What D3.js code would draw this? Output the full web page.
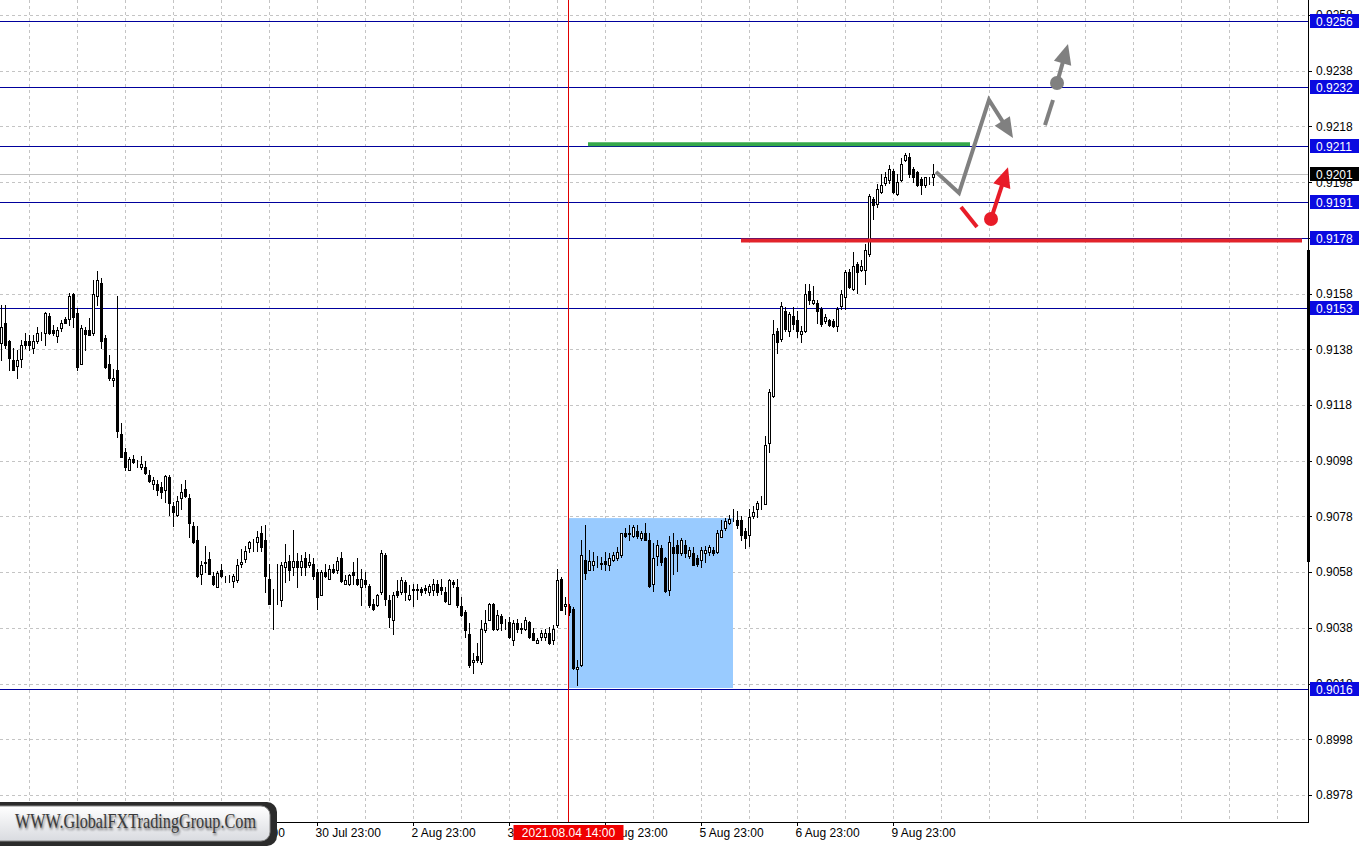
<!DOCTYPE html>
<html><head><meta charset="utf-8">
<script src="https://cdn.jsdelivr.net/npm/d3@7"></script>
<style>html,body{margin:0;padding:0;background:#fff;overflow:hidden}svg{display:block}</style>
</head><body>
<svg id="c" width="1365" height="846"></svg>
<script>
// ---- data: hourly candles (H1), index 0 = first visible bar ----
const open = [0.91401,0.91473,0.91409,0.91343,0.91319,0.91345,0.91409,0.91409,0.91386,0.91409,0.91430,0.91437,0.91499,0.91449,0.91427,0.91457,0.91487,0.91487,0.91578,0.91511,
0.91329,0.91449,0.91449,0.91437,0.91571,0.91619,0.91419,0.91329,0.91269,0.91305,0.91077,0.91011,0.90947,0.90987,0.90975,0.90957,0.90959,0.90927,0.90897,0.90897,
0.90887,0.90875,0.90921,0.90816,0.90785,0.90846,0.90879,0.90846,0.90747,0.90696,0.90575,0.90615,0.90627,0.90567,0.90527,0.90587,0.90555,0.90554,0.90549,0.90551,
0.90609,0.90627,0.90666,0.90678,0.90687,0.90720,0.90697,0.90557,0.90479,0.90487,0.90479,0.90599,0.90621,0.90599,0.90621,0.90599,0.90629,0.90607,0.90611,0.90581,
0.90499,0.90581,0.90557,0.90591,0.90587,0.90629,0.90539,0.90539,0.90581,0.90557,0.90527,0.90551,0.90529,0.90467,0.90461,0.90509,0.90641,0.90479,0.90409,0.90511,
0.90509,0.90545,0.90485,0.90517,0.90518,0.90519,0.90523,0.90509,0.90515,0.90539,0.90527,0.90509,0.90467,0.90545,0.90527,0.90457,0.90437,0.90359,0.90257,0.90279,
0.90257,0.90371,0.90409,0.90465,0.90377,0.90421,0.90389,0.90401,0.90337,0.90397,0.90377,0.90377,0.90401,0.90361,0.90327,0.90347,0.90347,0.90361,0.90337,0.90389,
0.90557,0.90457,0.90457,0.90449,0.90231,0.90247,0.90623,0.90589,0.90607,0.90617,0.90611,0.90619,0.90607,0.90625,0.90629,0.90641,0.90719,0.90719,0.90709,0.90729,
0.90701,0.90719,0.90697,0.90539,0.90637,0.90665,0.90629,0.90517,0.90671,0.90677,0.90649,0.90677,0.90637,0.90649,0.90629,0.90623,0.90649,0.90653,0.90659,0.90653,
0.90707,0.90737,0.90757,0.90775,0.90766,0.90766,0.90727,0.90715,0.90781,0.90805,0.90835,0.90826,0.91045,0.91213,0.91447,0.91417,0.91519,0.91445,0.91498,0.91486,
0.91435,0.91445,0.91589,0.91546,0.91546,0.91525,0.91483,0.91486,0.91483,0.91465,0.91537,0.91567,0.91657,0.91597,0.91687,0.91666,0.91666,0.91723,0.91918,0.91903,
0.91945,0.91978,0.91987,0.92021,0.91936,0.91987,0.92059,0.92069,0.92029,0.92017,0.91990,0.91969,0.91987,0.91997];
const high = [0.91539,0.91539,0.91413,0.91386,0.91377,0.91413,0.91437,0.91431,0.91431,0.91461,0.91443,0.91515,0.91509,0.91467,0.91461,0.91485,0.91497,0.91581,0.91581,0.91527,
0.91467,0.91461,0.91491,0.91629,0.91661,0.91635,0.91431,0.91359,0.91311,0.91571,0.91115,0.91026,0.90993,0.90999,0.90983,0.90996,0.90978,0.90945,0.90921,0.90909,
0.90903,0.90927,0.90927,0.90831,0.90855,0.90897,0.90909,0.90861,0.90759,0.90747,0.90621,0.90675,0.90651,0.90579,0.90585,0.90609,0.90567,0.90570,0.90573,0.90627,
0.90663,0.90675,0.90693,0.90699,0.90726,0.90747,0.90749,0.90611,0.90521,0.90611,0.90617,0.90681,0.90641,0.90731,0.90647,0.90641,0.90653,0.90645,0.90629,0.90593,
0.90587,0.90611,0.90605,0.90611,0.90635,0.90653,0.90569,0.90575,0.90617,0.90629,0.90593,0.90581,0.90539,0.90485,0.90503,0.90659,0.90647,0.90497,0.90509,0.90551,
0.90561,0.90551,0.90533,0.90539,0.90539,0.90527,0.90533,0.90539,0.90557,0.90551,0.90557,0.90527,0.90557,0.90553,0.90557,0.90491,0.90443,0.90397,0.90289,0.90325,
0.90409,0.90443,0.90469,0.90469,0.90443,0.90431,0.90413,0.90419,0.90409,0.90413,0.90397,0.90419,0.90405,0.90381,0.90345,0.90371,0.90377,0.90383,0.90389,0.90593,
0.90563,0.90489,0.90467,0.90455,0.90263,0.90695,0.90749,0.90659,0.90653,0.90637,0.90635,0.90653,0.90647,0.90653,0.90671,0.90721,0.90737,0.90749,0.90749,0.90749,
0.90729,0.90757,0.90719,0.90683,0.90697,0.90677,0.90635,0.90709,0.90721,0.90697,0.90701,0.90697,0.90671,0.90671,0.90641,0.90671,0.90673,0.90677,0.90671,0.90731,
0.90767,0.90773,0.90785,0.90805,0.90799,0.90781,0.90739,0.90805,0.90817,0.90835,0.90853,0.91069,0.91237,0.91486,0.91457,0.91549,0.91531,0.91513,0.91531,0.91517,
0.91465,0.91615,0.91615,0.91609,0.91558,0.91531,0.91505,0.91489,0.91489,0.91531,0.91594,0.91663,0.91669,0.91729,0.91693,0.91699,0.91759,0.91939,0.91927,0.91975,
0.92011,0.92017,0.92041,0.92026,0.92011,0.92065,0.92086,0.92086,0.92035,0.92021,0.91999,0.91999,0.91997,0.92047];
const low = [0.91341,0.91383,0.91307,0.91305,0.91278,0.91317,0.91383,0.91377,0.91367,0.91401,0.91413,0.91395,0.91434,0.91431,0.91407,0.91446,0.91473,0.91467,0.91461,0.91305,
0.91326,0.91379,0.91430,0.91431,0.91539,0.91385,0.91314,0.91269,0.91247,0.91065,0.90993,0.90947,0.90945,0.90972,0.90959,0.90951,0.90933,0.90903,0.90879,0.90857,
0.90846,0.90831,0.90786,0.90747,0.90783,0.90807,0.90849,0.90705,0.90685,0.90561,0.90537,0.90579,0.90573,0.90534,0.90525,0.90563,0.90546,0.90546,0.90527,0.90546,
0.90599,0.90615,0.90654,0.90657,0.90657,0.90657,0.90509,0.90465,0.90377,0.90465,0.90457,0.90545,0.90551,0.90569,0.90527,0.90569,0.90569,0.90599,0.90557,0.90449,
0.90497,0.90563,0.90555,0.90577,0.90577,0.90545,0.90537,0.90533,0.90539,0.90533,0.90461,0.90527,0.90455,0.90445,0.90457,0.90503,0.90461,0.90383,0.90359,0.90491,
0.90503,0.90479,0.90479,0.90457,0.90485,0.90499,0.90505,0.90499,0.90497,0.90497,0.90503,0.90473,0.90465,0.90527,0.90455,0.90421,0.90347,0.90239,0.90217,0.90257,
0.90251,0.90365,0.90407,0.90373,0.90373,0.90373,0.90377,0.90345,0.90317,0.90365,0.90361,0.90371,0.90345,0.90335,0.90325,0.90337,0.90337,0.90323,0.90321,0.90383,
0.90443,0.90431,0.90425,0.90233,0.90175,0.90243,0.90557,0.90587,0.90589,0.90599,0.90593,0.90587,0.90587,0.90621,0.90625,0.90635,0.90705,0.90695,0.90705,0.90701,
0.90697,0.90695,0.90525,0.90513,0.90605,0.90605,0.90509,0.90497,0.90575,0.90585,0.90641,0.90635,0.90629,0.90605,0.90601,0.90599,0.90617,0.90641,0.90641,0.90647,
0.90705,0.90733,0.90753,0.90763,0.90739,0.90697,0.90665,0.90673,0.90775,0.90778,0.90805,0.90823,0.91013,0.91207,0.91366,0.91411,0.91445,0.91426,0.91453,0.91423,
0.91405,0.91441,0.91543,0.91541,0.91474,0.91465,0.91474,0.91465,0.91459,0.91445,0.91525,0.91525,0.91601,0.91594,0.91582,0.91661,0.91615,0.91714,0.91846,0.91891,
0.91942,0.91969,0.91978,0.91942,0.91933,0.91985,0.92057,0.91999,0.91981,0.91966,0.91937,0.91963,0.91975,0.91969];
const close = [0.91461,0.91395,0.91347,0.91307,0.91341,0.91397,0.91397,0.91397,0.91409,0.91437,0.91431,0.91509,0.91437,0.91437,0.91449,0.91476,0.91476,0.91571,0.91497,0.91317,
0.91458,0.91434,0.91431,0.91578,0.91629,0.91409,0.91317,0.91278,0.91278,0.91086,0.90995,0.90957,0.90987,0.90975,0.90974,0.90969,0.90935,0.90906,0.90909,0.90875,
0.90867,0.90924,0.90828,0.90795,0.90837,0.90869,0.90855,0.90755,0.90687,0.90567,0.90606,0.90614,0.90575,0.90537,0.90576,0.90567,0.90554,0.90555,0.90567,0.90606,
0.90617,0.90657,0.90687,0.90679,0.90705,0.90670,0.90565,0.90467,0.90480,0.90488,0.90607,0.90617,0.90587,0.90621,0.90599,0.90621,0.90599,0.90618,0.90565,0.90489,
0.90581,0.90567,0.90593,0.90579,0.90619,0.90549,0.90551,0.90569,0.90569,0.90539,0.90557,0.90537,0.90461,0.90449,0.90499,0.90649,0.90485,0.90419,0.90499,0.90499,
0.90551,0.90509,0.90499,0.90518,0.90517,0.90509,0.90515,0.90529,0.90539,0.90509,0.90517,0.90477,0.90551,0.90539,0.90461,0.90425,0.90371,0.90245,0.90265,0.90265,
0.90377,0.90397,0.90465,0.90377,0.90425,0.90397,0.90389,0.90347,0.90397,0.90377,0.90378,0.90409,0.90347,0.90337,0.90337,0.90361,0.90361,0.90325,0.90377,0.90551,
0.90445,0.90467,0.90437,0.90237,0.90239,0.90641,0.90577,0.90619,0.90619,0.90617,0.90612,0.90611,0.90629,0.90641,0.90653,0.90719,0.90709,0.90718,0.90741,0.90709,
0.90719,0.90697,0.90529,0.90629,0.90677,0.90617,0.90513,0.90689,0.90647,0.90649,0.90695,0.90647,0.90659,0.90607,0.90609,0.90659,0.90659,0.90671,0.90649,0.90721,
0.90733,0.90765,0.90769,0.90776,0.90751,0.90715,0.90703,0.90778,0.90797,0.90829,0.90836,0.91037,0.91225,0.91435,0.91405,0.91537,0.91453,0.91507,0.91471,0.91445,
0.91447,0.91577,0.91558,0.91558,0.91517,0.91471,0.91495,0.91469,0.91465,0.91525,0.91577,0.91657,0.91603,0.91678,0.91657,0.91678,0.91735,0.91930,0.91897,0.91957,
0.91969,0.91999,0.92029,0.91945,0.91981,0.92047,0.92077,0.92008,0.91997,0.91969,0.91969,0.91997,0.91988,0.92009];

// axis tick labels
const priceTicks = [0.8978,0.8998,0.9018,0.9038,0.9058,0.9078,0.9098,0.9118,0.9138,0.9158,0.9178,0.9198,0.9218,0.9238,0.9258];
const timeIndex  = [55,79,103,127,151,175,199,223];
const timeLabels = ["29 Jul 23:00","30 Jul 23:00","2 Aug 23:00","3 Aug 23:00","4 Aug 23:00","5 Aug 23:00","6 Aug 23:00","9 Aug 23:00"];
// horizontal support/resistance levels
const levels = [0.9256,0.9232,0.9211,0.9191,0.9178,0.9153,0.9016];
// marked time
const markIndex = 142, markLabel = "2021.08.04 14:00";
// range box (index / price)
const boxIdx = [141.75,183], boxPrice = [0.90164,0.90774];
// thick trend/target lines
const greenLine = {from:146.75, to:242.25, price:0.92116};
const redLine   = {from:185, to:325.25, price:0.91771};
// forecast arrows (index, price)
const grayPath  = [[233.75,0.92017],[239.5,0.91941],[247,0.92275],[253,0.92139]];
const grayDash  = [[261,0.92185],[263,0.92275]];
const grayDot   = [264,0.92336];
const grayTip   = [266.75,0.92476];
const redDash   = [[240,0.91891],[244,0.91819]];
const redDot    = [247.5,0.91848];
const redTip    = [251.75,0.92034];

// ---- drawing ----
const PR = 1308, PB = 822;
const svg = d3.select('#c');
const x = d3.scaleLinear().domain([0,327]).range([1,1309]);
const y = d3.scaleLinear().domain([0.89683,0.92634]).range([PB,0]);
const cr = v => Math.round(v)+0.5;
const FONT = "'Liberation Sans', Arial, sans-serif";

svg.append('rect').attr('width',1365).attr('height',846).attr('fill','#fff');

// grid
const grid = svg.append('g').attr('stroke','#c4c4c4').attr('stroke-dasharray','3,3').attr('shape-rendering','crispEdges');
grid.selectAll('.h').data(priceTicks).join('line').attr('x1',0).attr('x2',PR)
  .attr('y1',d=>cr(y(d))).attr('y2',d=>cr(y(d)));
grid.selectAll('.v').data(d3.range(7,327,12)).join('line').attr('y1',0).attr('y2',PB)
  .attr('x1',d=>cr(x(d))).attr('x2',d=>cr(x(d)));

// range box
svg.append('rect').attr('x',x(boxIdx[0])).attr('width',x(boxIdx[1])-x(boxIdx[0]))
  .attr('y',y(boxPrice[1])).attr('height',y(boxPrice[0])-y(boxPrice[1])).attr('fill','#99cbff');

// levels
svg.append('g').attr('shape-rendering','crispEdges').selectAll('line').data(levels).join('line')
  .attr('x1',0).attr('x2',PR).attr('y1',d=>cr(y(d))).attr('y2',d=>cr(y(d))).attr('stroke','#00009c').attr('stroke-width',1);

// current price line
const last = close[close.length-1];
svg.append('line').attr('x1',0).attr('x2',PR).attr('y1',cr(y(last))).attr('y2',cr(y(last)))
  .attr('stroke','#c0c0c0').attr('shape-rendering','crispEdges');

// candles
const idx = d3.range(open.length);
const cg = svg.append('g').attr('shape-rendering','crispEdges');
cg.selectAll('line.w').data(idx).join('line').attr('class','w')
  .attr('x1',i=>Math.round(x(i))+0.5).attr('x2',i=>Math.round(x(i))+0.5)
  .attr('y1',i=>Math.round(y(high[i]))).attr('y2',i=>Math.round(y(low[i]))+1)
  .attr('stroke','#000');
cg.selectAll('rect.b').data(idx).join('rect').attr('class','b')
  .attr('x',i=>Math.round(x(i))-0.5).attr('width',2)
  .attr('y',i=>Math.round(y(Math.max(open[i],close[i])))+0.5)
  .attr('height',i=>Math.max(0,Math.round(y(Math.min(open[i],close[i])))-Math.round(y(Math.max(open[i],close[i])))))
  .attr('fill',i=>close[i]<open[i]?'#000':'#fff').attr('stroke','#000');

// marked time vertical
svg.append('line').attr('x1',cr(x(markIndex))-1).attr('x2',cr(x(markIndex))-1).attr('y1',0).attr('y2',PB)
  .attr('stroke','#e00000').attr('shape-rendering','crispEdges');

// thick lines
svg.append('line').attr('x1',x(greenLine.from)).attr('x2',x(greenLine.to)).attr('y1',y(greenLine.price)).attr('y2',y(greenLine.price))
  .attr('stroke','#35a84a').attr('stroke-width',4);
svg.append('line').attr('x1',x(redLine.from)).attr('x2',x(redLine.to)).attr('y1',y(redLine.price)).attr('y2',y(redLine.price))
  .attr('stroke','#e2242b').attr('stroke-width',4);

// arrows
const P = p => [x(p[0]), y(p[1])];
function arrowHead(from, tip, color, len=20, hw=9){
  const [x0,y0]=from,[x1,y1]=tip; const dx=x1-x0, dy=y1-y0, L=Math.hypot(dx,dy);
  const ux=dx/L, uy=dy/L; const bx=x1-ux*len, by=y1-uy*len;
  svg.append('path').attr('d',`M${x1},${y1}L${bx-uy*hw},${by+ux*hw}L${bx+uy*hw},${by-ux*hw}Z`).attr('fill',color);
  return [bx+ux*2, by+uy*2];
}
function poly(pts,color){
  svg.append('path').attr('d',d3.line()(pts)).attr('fill','none').attr('stroke',color).attr('stroke-width',4).attr('stroke-linejoin','miter');
}
const GRAY='#808080', RED='#e81c28';
{ const pts = grayPath.map(P); const n=pts.length;
  const base = arrowHead(pts[n-2], pts[n-1], GRAY);
  poly([...pts.slice(0,n-1), base], GRAY); }
poly(grayDash.map(P), GRAY);
{ const c=P(grayDot), t=P(grayTip); svg.append('circle').attr('cx',c[0]).attr('cy',c[1]).attr('r',7).attr('fill',GRAY);
  const base=arrowHead(c,t,GRAY); poly([c,base],GRAY); }
poly(redDash.map(P), RED);
{ const c=P(redDot), t=P(redTip); svg.append('circle').attr('cx',c[0]).attr('cy',c[1]).attr('r',7).attr('fill',RED);
  const base=arrowHead(c,t,RED); poly([c,base],RED); }

// axes
const ya = svg.append('g').attr('transform',`translate(${PR},0)`)
  .call(d3.axisRight(y).tickValues(priceTicks).tickFormat(d3.format('.4f')).tickSize(4).tickSizeOuter(0).tickPadding(4));
ya.select('.domain').remove();
ya.selectAll('text').attr('font-family',FONT).attr('font-size',12).attr('fill','#000');
ya.selectAll('line').attr('stroke','#000').attr('shape-rendering','crispEdges');

const xa = svg.append('g').attr('transform',`translate(0,${PB})`)
  .call(d3.axisBottom(x).tickValues(timeIndex).tickFormat((d,k)=>timeLabels[k]).tickSize(4).tickSizeOuter(0));
xa.select('.domain').remove();
xa.selectAll('text').attr('font-family',FONT).attr('font-size',12).attr('fill','#000')
  .attr('text-anchor','start').attr('dx',-2).attr('y',6);
xa.selectAll('line').attr('stroke','#000').attr('shape-rendering','crispEdges');

svg.append('line').attr('x1',0).attr('x2',PR+1).attr('y1',PB+0.5).attr('y2',PB+0.5).attr('stroke','#000');
svg.append('line').attr('x1',PR+0.5).attr('x2',PR+0.5).attr('y1',0).attr('y2',PB).attr('stroke','#000');
svg.append('rect').attr('x',PR-1).attr('y',250).attr('width',3).attr('height',312).attr('fill','#000');

// level labels
const lg = svg.append('g').selectAll('g').data(levels).join('g');
lg.append('rect').attr('x',PR+2).attr('width',49).attr('y',d=>Math.round(y(d))-7).attr('height',14).attr('fill','#0a0ae0');
lg.append('text').attr('x',PR+8).attr('y',d=>Math.round(y(d))+4.5).text(d=>d3.format('.4f')(d))
  .attr('font-family',FONT).attr('font-size',12).attr('fill','#fff');
// current price label
svg.append('rect').attr('x',PR+2).attr('width',49).attr('y',Math.round(y(last))-7).attr('height',14).attr('fill','#000');
svg.append('text').attr('x',PR+8).attr('y',Math.round(y(last))+4.5).text(d3.format('.4f')(last))
  .attr('font-family',FONT).attr('font-size',12).attr('fill','#fff');

// marked time label
const mx = cr(x(markIndex))-1;
svg.append('rect').attr('x',mx-55).attr('y',PB+3).attr('width',110).attr('height',15).attr('fill','#f00000');
svg.append('text').attr('x',mx).attr('y',PB+15).attr('text-anchor','middle').text(markLabel)
  .attr('font-family',FONT).attr('font-size',12).attr('fill','#fff');

// watermark
const defs = svg.append('defs');
const gr = defs.append('linearGradient').attr('id','wg').attr('x1',0).attr('y1',0).attr('x2',0).attr('y2',1);
gr.append('stop').attr('offset','0%').attr('stop-color','#ffffff');
gr.append('stop').attr('offset','100%').attr('stop-color','#d9dbe0');
defs.append('filter').attr('id','blur').append('feGaussianBlur').attr('stdDeviation',1.2);
svg.append('rect').attr('x',-10).attr('y',802).attr('width',287).attr('height',44).attr('rx',10).attr('fill','#2b2b2b');
svg.append('rect').attr('x',-10).attr('y',806).attr('width',280).attr('height',35).attr('rx',9).attr('fill','url(#wg)').attr('stroke','#8a8a8a');
svg.append('text').attr('x',16).attr('y',830).attr('textLength',241).attr('lengthAdjust','spacingAndGlyphs')
  .attr('font-family',"'Liberation Serif','Times New Roman',serif").attr('font-size',21).attr('fill','#000').attr('opacity',0.55)
  .attr('filter','url(#blur)').text('WWW.GlobalFXTradingGroup.Com');
svg.append('text').attr('x',15).attr('y',828).attr('textLength',241).attr('lengthAdjust','spacingAndGlyphs')
  .attr('font-family',"'Liberation Serif','Times New Roman',serif").attr('font-size',21).attr('fill','#3a3a3a')
  .text('WWW.GlobalFXTradingGroup.Com');
</script>
</body></html>
